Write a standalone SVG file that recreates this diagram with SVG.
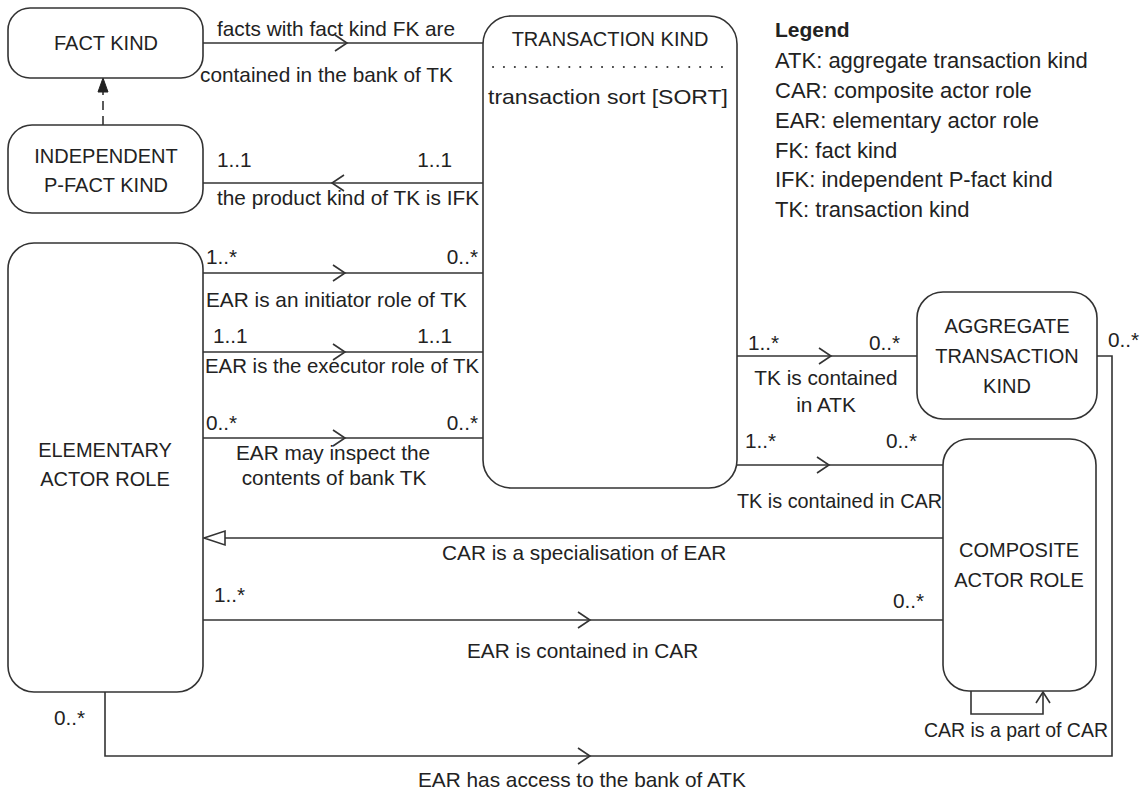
<svg xmlns="http://www.w3.org/2000/svg" width="1146" height="792" viewBox="0 0 1146 792">
<style>
  .box { fill: #fff; stroke: #333; stroke-width: 1.6; }
  .ln { fill: none; stroke: #333; stroke-width: 1.6; }
  .chev { fill: none; stroke: #333; stroke-width: 1.6; }
  text { font-family: "Liberation Sans", Arial, sans-serif; fill: #222; }
  .nd { font-size: 20px; text-anchor: middle; }
  .lb { font-size: 20.8px; }
  .mid { text-anchor: middle; }
  .end { text-anchor: end; }
  .lg { font-size: 22px; }
  .lgh { font-size: 21px; font-weight: bold; }
</style>
<defs>
  <path id="chevR" class="chev" d="M -12 -8 L 0 0 L -12 8"/>
  <path id="chevL" class="chev" d="M 12 -8 L 0 0 L 12 8"/>
</defs>
<rect width="1146" height="792" fill="#fff"/>

<g id="connectors">
  <!-- FK <- TK -->
  <line class="ln" x1="203" y1="43" x2="483" y2="43"/>
  <use href="#chevR" x="347" y="43"/>
  <!-- IFK dashed to FK -->
  <line class="ln" x1="103" y1="125" x2="103" y2="90" stroke-dasharray="9,6"/>
  <path d="M 103 78 L 98 92 L 108 92 Z" fill="#222" stroke="#222" stroke-width="1"/>
  <!-- TK -> IFK -->
  <line class="ln" x1="203" y1="183" x2="483" y2="183"/>
  <use href="#chevL" x="332" y="183"/>
  <!-- EAR -> TK (3) -->
  <line class="ln" x1="203" y1="273" x2="483" y2="273"/>
  <use href="#chevR" x="345" y="273"/>
  <line class="ln" x1="203" y1="352" x2="483" y2="352"/>
  <use href="#chevR" x="345" y="352"/>
  <line class="ln" x1="203" y1="438" x2="483" y2="438"/>
  <use href="#chevR" x="345" y="438"/>
  <!-- TK -> ATK -->
  <line class="ln" x1="737" y1="356" x2="917" y2="356"/>
  <use href="#chevR" x="831" y="356"/>
  <!-- TK -> CAR -->
  <line class="ln" x1="737" y1="465" x2="943" y2="465"/>
  <use href="#chevR" x="829" y="465"/>
  <!-- CAR specialisation of EAR -->
  <line class="ln" x1="225" y1="538" x2="943" y2="538"/>
  <path d="M 204 538 L 225 531 L 225 545 Z" fill="#fff" stroke="#333" stroke-width="1.6"/>
  <!-- EAR -> CAR -->
  <line class="ln" x1="203" y1="620" x2="943" y2="620"/>
  <use href="#chevR" x="590" y="620"/>
  <!-- CAR self loop -->
  <path class="ln" d="M 971 691 L 971 714 L 1043 714 L 1043 692"/>
  <path class="chev" d="M 1036 703 L 1043 692 L 1050 703"/>
  <!-- EAR -> ATK -->
  <path class="ln" d="M 105 692 L 105 756 L 1112 756 L 1112 356 L 1097 356"/>
  <use href="#chevR" x="590" y="756"/>
</g>

<g id="fact-kind">
  <rect class="box" x="8" y="8" width="195" height="70" rx="22"/>
  <text class="nd" x="106" y="50">FACT KIND</text>
</g>

<g id="independent-p-fact-kind">
  <rect class="box" x="8" y="125" width="195" height="88" rx="24"/>
  <text class="nd" x="106" y="163">INDEPENDENT</text>
  <text class="nd" x="106" y="192">P-FACT KIND</text>
</g>

<g id="transaction-kind">
  <rect class="box" x="483" y="16" width="254" height="472" rx="28"/>
  <text class="nd" x="610" y="46">TRANSACTION KIND</text>
  <line x1="493" y1="67" x2="731" y2="67" stroke="#333" stroke-width="2" stroke-dasharray="0.1,10.8" stroke-linecap="round"/>
  <text class="lb" x="488" y="104" textLength="240" lengthAdjust="spacingAndGlyphs">transaction sort [SORT]</text>
</g>

<g id="elementary-actor-role">
  <rect class="box" x="8" y="243" width="195" height="449" rx="26"/>
  <text class="nd" x="105" y="457">ELEMENTARY</text>
  <text class="nd" x="105" y="486">ACTOR ROLE</text>
</g>

<g id="aggregate-transaction-kind">
  <rect class="box" x="917" y="292" width="180" height="127" rx="26"/>
  <text class="nd" x="1007" y="333">AGGREGATE</text>
  <text class="nd" x="1007" y="363">TRANSACTION</text>
  <text class="nd" x="1007" y="393">KIND</text>
</g>

<g id="composite-actor-role">
  <rect class="box" x="943" y="439" width="153" height="252" rx="26"/>
  <text class="nd" x="1019" y="557">COMPOSITE</text>
  <text class="nd" x="1019" y="587">ACTOR ROLE</text>
</g>

<g id="labels">
  <text class="lb" x="217" y="36">facts with fact kind FK are</text>
  <text class="lb" x="200" y="82">contained in the bank of TK</text>
  <text class="lb" x="217" y="167">1..1</text>
  <text class="lb end" x="452" y="167">1..1</text>
  <text class="lb" x="217" y="205">the product kind of TK is IFK</text>
  <text class="lb" x="206" y="264">1..*</text>
  <text class="lb end" x="478" y="264">0..*</text>
  <text class="lb" x="206" y="307">EAR is an initiator role of TK</text>
  <text class="lb" x="213" y="343">1..1</text>
  <text class="lb end" x="452" y="343">1..1</text>
  <text class="lb" x="205" y="373" textLength="274" lengthAdjust="spacingAndGlyphs">EAR is the executor role of TK</text>
  <text class="lb" x="206" y="430">0..*</text>
  <text class="lb end" x="478" y="430">0..*</text>
  <text class="lb mid" x="333" y="460">EAR may inspect the</text>
  <text class="lb mid" x="334" y="485">contents of bank TK</text>
  <text class="lb" x="748" y="350">1..*</text>
  <text class="lb" x="869" y="350">0..*</text>
  <text class="lb mid" x="826" y="385">TK is contained</text>
  <text class="lb mid" x="826" y="412">in ATK</text>
  <text class="lb" x="1108" y="347">0..*</text>
  <text class="lb" x="745" y="448">1..*</text>
  <text class="lb" x="886" y="448">0..*</text>
  <text class="lb" x="737" y="508" textLength="205" lengthAdjust="spacingAndGlyphs">TK is contained in CAR</text>
  <text class="lb" x="442" y="560">CAR is a specialisation of EAR</text>
  <text class="lb" x="214" y="602">1..*</text>
  <text class="lb" x="893" y="608">0..*</text>
  <text class="lb" x="467" y="658">EAR is contained in CAR</text>
  <text class="lb" x="54" y="725">0..*</text>
  <text class="lb" x="924" y="737" textLength="184" lengthAdjust="spacingAndGlyphs">CAR is a part of CAR</text>
  <text class="lb" x="418" y="787">EAR has access to the bank of ATK</text>
</g>

<g id="legend">
  <text class="lgh" x="775" y="37">Legend</text>
  <text class="lg" x="775" y="68">ATK: aggregate transaction kind</text>
  <text class="lg" x="775" y="98">CAR: composite actor role</text>
  <text class="lg" x="775" y="128">EAR: elementary actor role</text>
  <text class="lg" x="775" y="158">FK: fact kind</text>
  <text class="lg" x="775" y="187">IFK: independent P-fact kind</text>
  <text class="lg" x="775" y="217">TK: transaction kind</text>
</g>
</svg>
